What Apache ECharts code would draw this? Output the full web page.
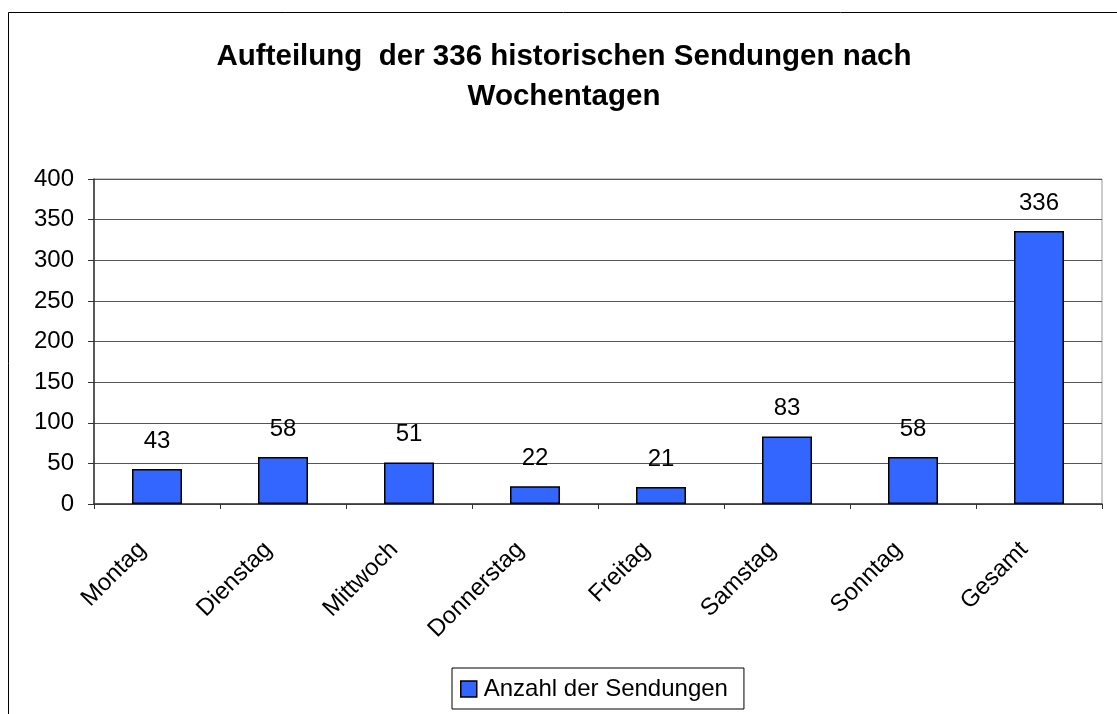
<!DOCTYPE html>
<html>
<head>
<meta charset="utf-8">
<script src="https://cdn.jsdelivr.net/npm/echarts@6/dist/echarts.min.js"></script>
<style>
  html, body { margin: 0; padding: 0; background: #fff; }
  #chart { width: 1117px; height: 714px; }
</style>
</head>
<body>
<div id="chart"></div>
<script>
// Wochentage und Anzahl
var tage = ["Montag", "Dienstag", "Mittwoch", "Donnerstag", "Freitag", "Samstag", "Sonntag", "Gesamt"];
var anzahl = [43, 58, 51, 22, 21, 83, 58, 336];
var yTicks = [0, 50, 100, 150, 200, 250, 300, 350, 400];

var myChart = echarts.init(document.getElementById('chart'));
var font = "Liberation Sans, Arial, sans-serif";

var option = {
    animation: false,
    backgroundColor: "#fff",
    title: {
        text: "Aufteilung  der 336 historischen Sendungen nach\nWochentagen",
        left: 559,
        textAlign: "center",
        top: 32,
        textStyle: {
            fontFamily: font,
            fontSize: 29.5,
            fontWeight: "bold",
            color: "#000",
            lineHeight: 40
        }
    },
    graphic: [{
        type: "rect",
        shape: { x: 8.5, y: 12.5, width: 1200, height: 800 },
        style: { fill: null, stroke: "#000", lineWidth: 1 },
        silent: true,
        z: -1
    }],
    legend: {
        top: 668,
        left: 452,
        icon: "rect",
        itemWidth: 16,
        itemHeight: 16,
        padding: [9, 16, 8, 8],
        borderColor: "#000",
        borderWidth: 1,
        textStyle: { fontFamily: font, fontSize: 24, color: "#000", padding: [0, 0, 0, 2] },
        data: [{ name: "Anzahl der Sendungen", itemStyle: { borderColor: "#000", borderWidth: 1.5 } }]
    },
    grid: {
        left: 94,
        right: 15,
        top: 179,
        bottom: 210,
        show: true,
        borderColor: "#999",
        borderWidth: 1
    },
    xAxis: {
        type: "category",
        data: tage,
        axisLine: { lineStyle: { color: "#333", width: 1.5 } },
        axisTick: { show: true, length: 5, lineStyle: { color: "#333" } },
        axisLabel: {
            rotate: 45,
            margin: 27,
            padding: [0, 21, 0, 0],
            fontFamily: font,
            fontSize: 24,
            color: "#000"
        }
    },
    yAxis: {
        type: "value",
        min: yTicks[0],
        max: yTicks[yTicks.length - 1],
        interval: 50,
        axisLine: { show: true, lineStyle: { color: "#333", width: 1.5 } },
        axisTick: { show: true, length: 6, lineStyle: { color: "#333" } },
        axisLabel: {
            margin: 20,
            fontFamily: font,
            fontSize: 24,
            color: "#000"
        },
        splitLine: { show: true, lineStyle: { color: "#555", width: 1 } }
    },
    series: [{
        name: "Anzahl der Sendungen",
        type: "bar",
        data: anzahl,
        barWidth: 50,
        itemStyle: { color: "#3366FF", borderColor: "#000", borderWidth: 1.5 },
        label: {
            show: true,
            position: "top",
            distance: 16,
            fontFamily: font,
            fontSize: 24,
            color: "#000"
        }
    }]
};

myChart.setOption(option);
</script>
</body>
</html>
